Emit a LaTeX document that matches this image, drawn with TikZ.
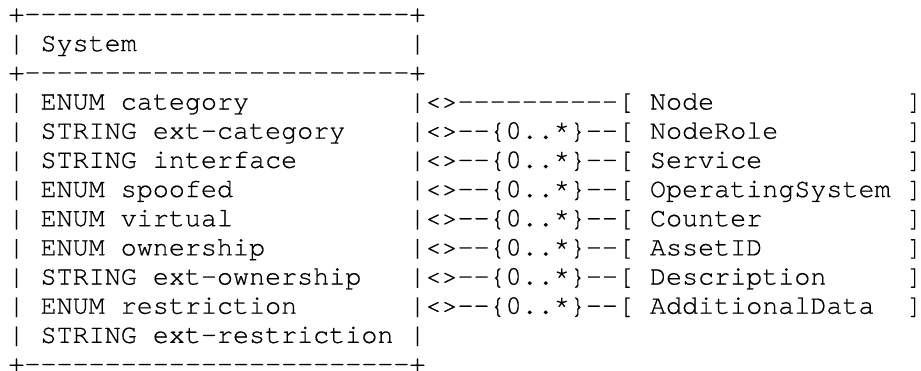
\documentclass[tikz,border=0pt]{standalone}
\usepackage{fontspec}
\setmonofont{TeX Gyre Cursor}[FakeBold=0.5]
% n blank columns of the monospaced grid
\newcommand\colgap[1]{\hspace*{#1\fontdimen2\font}}
\tikzset{
  asciirow/.style={anchor=base west, inner sep=0pt, outer sep=0pt,
    font=\ttfamily\fontsize{26.73}{28}\selectfont, text=black},
}
\begin{document}
\begin{tikzpicture}[x=1pt,y=1pt]
\useasboundingbox (0,0) rectangle (921,-371);
\def\rowpitch{29.17}
\def\firstbase{22}
\def\leftx{8.5}
\newcommand\rowy[1]{-\firstbase-(#1-1)*\rowpitch}
\node[asciirow] (r1)  at (\leftx,{\rowy{1}})  {+------------------------+};
\node[asciirow] (r2)  at (\leftx,{\rowy{2}})  {|\colgap{1}System\colgap{17}|};
\node[asciirow] (r3)  at (\leftx,{\rowy{3}})  {+------------------------+};
\node[asciirow] (r4)  at (\leftx,{\rowy{4}})  {|\colgap{1}ENUM category\colgap{10}|<>----------[\colgap{1}Node\colgap{12}]};
\node[asciirow] (r5)  at (\leftx,{\rowy{5}})  {|\colgap{1}STRING ext-category\colgap{4}|<>--\{0..*\}--[\colgap{1}NodeRole\colgap{8}]};
\node[asciirow] (r6)  at (\leftx,{\rowy{6}})  {|\colgap{1}STRING interface\colgap{7}|<>--\{0..*\}--[\colgap{1}Service\colgap{9}]};
\node[asciirow] (r7)  at (\leftx,{\rowy{7}})  {|\colgap{1}ENUM spoofed\colgap{11}|<>--\{0..*\}--[\colgap{1}OperatingSystem\colgap{1}]};
\node[asciirow] (r8)  at (\leftx,{\rowy{8}})  {|\colgap{1}ENUM virtual\colgap{11}|<>--\{0..*\}--[\colgap{1}Counter\colgap{9}]};
\node[asciirow] (r9)  at (\leftx,{\rowy{9}})  {|\colgap{1}ENUM ownership\colgap{9}|<>--\{0..*\}--[\colgap{1}AssetID\colgap{9}]};
\node[asciirow] (r10) at (\leftx,{\rowy{10}}) {|\colgap{1}STRING ext-ownership\colgap{3}|<>--\{0..*\}--[\colgap{1}Description\colgap{5}]};
\node[asciirow] (r11) at (\leftx,{\rowy{11}}) {|\colgap{1}ENUM restriction\colgap{7}|<>--\{0..*\}--[\colgap{1}AdditionalData\colgap{2}]};
\node[asciirow] (r12) at (\leftx,{\rowy{12}}) {|\colgap{1}STRING ext-restriction\colgap{1}|};
\node[asciirow] (r13) at (\leftx,{\rowy{13}}) {+------------------------+};
\end{tikzpicture}
\end{document}
